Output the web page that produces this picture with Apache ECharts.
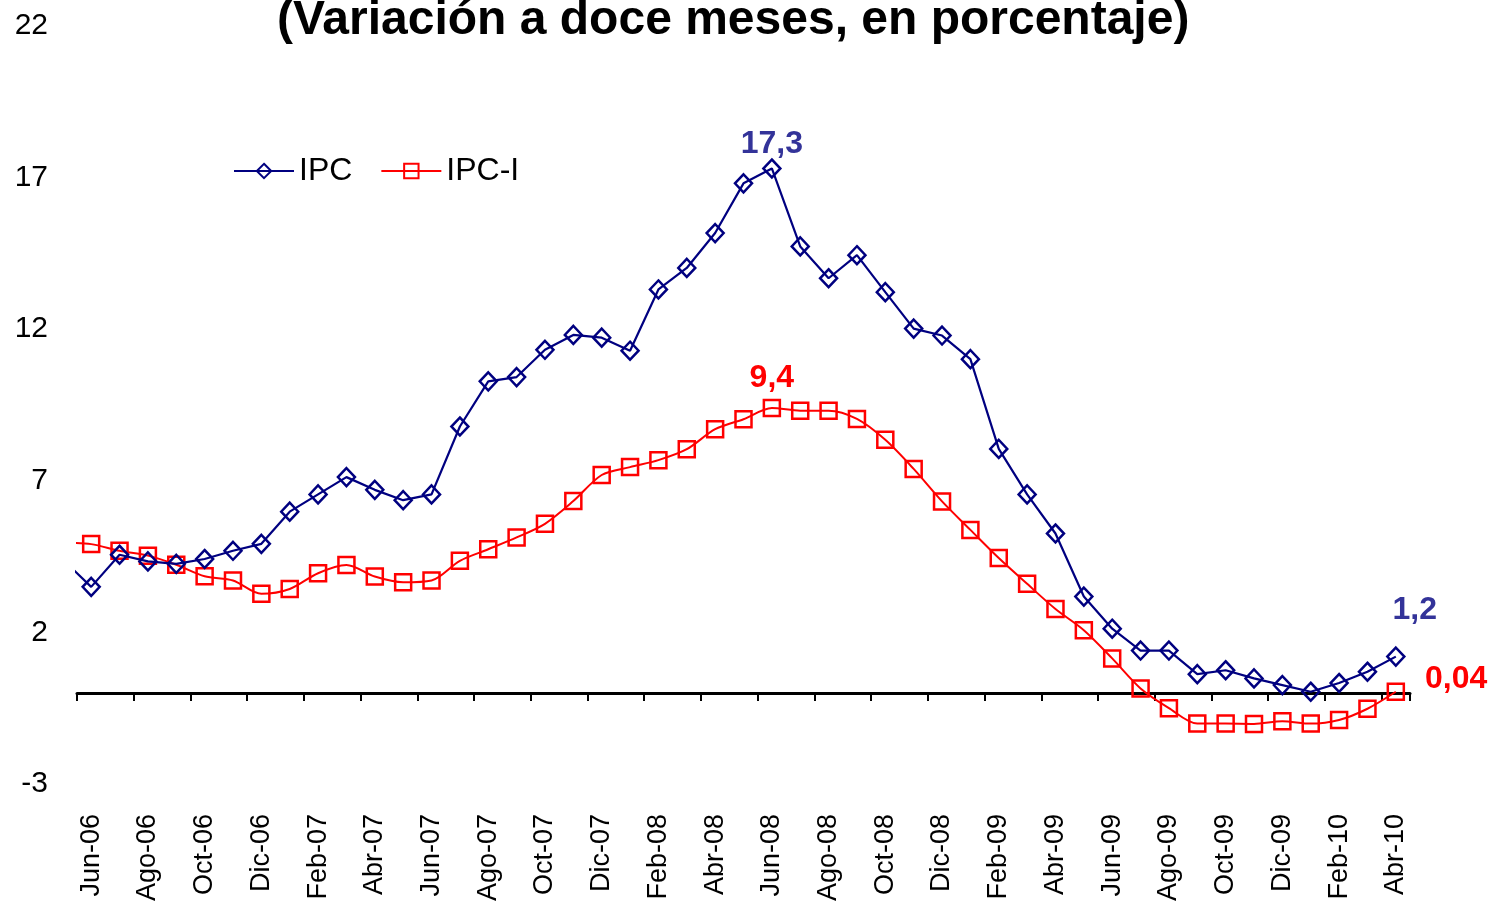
<!DOCTYPE html>
<html>
<head>
<meta charset="utf-8">
<title>Variación a doce meses</title>
<script src="https://cdn.jsdelivr.net/npm/echarts@6/dist/echarts.min.js"></script>
<style>
  html, body { margin: 0; padding: 0; background: #fff; }
  #chart { width: 1494px; height: 904px; }
</style>
</head>
<body>
<div id="chart"></div>
<script>
// Monthly categories; the first month sits just before the visible range
const months = [
  'May-06', 'Jun-06', 'Jul-06', 'Ago-06', 'Sep-06', 'Oct-06', 'Nov-06', 'Dic-06',
  'Ene-07', 'Feb-07', 'Mar-07', 'Abr-07', 'May-07', 'Jun-07', 'Jul-07', 'Ago-07',
  'Sep-07', 'Oct-07', 'Nov-07', 'Dic-07',
  'Ene-08', 'Feb-08', 'Mar-08', 'Abr-08', 'May-08', 'Jun-08', 'Jul-08', 'Ago-08',
  'Sep-08', 'Oct-08', 'Nov-08', 'Dic-08',
  'Ene-09', 'Feb-09', 'Mar-09', 'Abr-09', 'May-09', 'Jun-09', 'Jul-09', 'Ago-09',
  'Sep-09', 'Oct-09', 'Nov-09', 'Dic-09',
  'Ene-10', 'Feb-10', 'Mar-10', 'Abr-10'
];

// Índice de precios al consumidor, variación a doce meses (%)
const ipc = [
  4.40, 3.50, 4.56, 4.34, 4.26, 4.42, 4.69, 4.92,
  5.98, 6.55, 7.12, 6.70, 6.36, 6.55, 8.79, 10.28,
  10.42, 11.32, 11.81, 11.72,
  11.29, 13.31, 14.02, 15.17, 16.81, 17.3, 14.73, 13.68,
  14.44, 13.22, 12.02, 11.79,
  11.01, 8.05, 6.55, 5.26, 3.18, 2.12, 1.40, 1.40,
  0.62, 0.75, 0.48, 0.26,
  0.04, 0.33, 0.70, 1.2
];

// IPC-I, variación a doce meses (%)
const ipcI = [
  4.95, 4.91, 4.69, 4.53, 4.23, 3.85, 3.71, 3.27,
  3.43, 3.95, 4.22, 3.84, 3.65, 3.71, 4.36, 4.74,
  5.13, 5.58, 6.33, 7.19,
  7.45, 7.68, 8.04, 8.70, 9.03, 9.4, 9.31, 9.31,
  9.04, 8.35, 7.39, 6.32,
  5.38, 4.45, 3.60, 2.77, 2.07, 1.14, 0.15, -0.50,
  -1.01, -1.01, -1.02, -0.93,
  -1.01, -0.89, -0.52, 0.04
];

const seriesNames = ['IPC', 'IPC-I'];
const yMin = -3, yMax = 22, yStep = 5;

const BLUE = '#000080';
const LABEL_BLUE = '#333399';
const RED = '#FF0000';
const FONT = '"Liberation Sans", Arial, sans-serif';

const firstShown = 1;                 // 'Jun-06'
const peakIdx = months.indexOf('Jun-08');
const lastIdx = months.length - 1;

function fmt(decimals) {
  return function (p) { return p.value.toFixed(decimals).replace('.', ','); };
}

function valueLabel(color, decimals, extra) {
  return Object.assign({
    show: true,
    color: color,
    fontSize: 32,
    fontWeight: 'bold',
    fontFamily: FONT,
    formatter: fmt(decimals)
  }, extra);
}

function withLabels(values, labels) {
  return values.map(function (v, i) {
    return labels[i] ? { value: v, label: labels[i] } : v;
  });
}

const ipcData = withLabels(ipc, {
  [peakIdx]: valueLabel(LABEL_BLUE, 1, { position: 'top', distance: -2 }),
  [lastIdx]: valueLabel(LABEL_BLUE, 1, { position: 'top', distance: 20, offset: [19, 0] })
});

const ipcIData = withLabels(ipcI, {
  [peakIdx]: valueLabel(RED, 1, { position: 'top', distance: 5 }),
  [lastIdx]: valueLabel(RED, 2, { position: 'right', distance: 20, offset: [0, -13] })
});

// every second month gets a label and a tick, starting at Jun-06
const everyOther = function (idx) { return (idx - firstShown) % 2 === 0; };

const chart = echarts.init(document.getElementById('chart'), null, { renderer: 'canvas' });

chart.setOption({
  animation: false,
  backgroundColor: '#fff',
  textStyle: { fontFamily: FONT },
  title: {
    text: '(Variación a doce meses, en porcentaje)',
    left: 272,
    top: -8,
    textStyle: { fontSize: 48, fontWeight: 'bold', color: '#000', fontFamily: FONT }
  },
  legend: {
    data: seriesNames,
    left: 228,
    top: 150,
    itemWidth: 60,
    itemHeight: 18,
    itemGap: 28,
    textStyle: { fontSize: 32, color: '#000', fontFamily: FONT }
  },
  grid: { left: 77, right: 84, top: 26, bottom: 117, containLabel: false },
  xAxis: [
    {
      // axis line drawn through zero, with ticks only
      type: 'category',
      data: months,
      min: firstShown,
      boundaryGap: true,
      axisLine: { show: true, onZero: true, lineStyle: { color: '#000', width: 3 } },
      axisTick: { show: true, interval: everyOther, length: 8, lineStyle: { color: '#000', width: 2 } },
      axisLabel: { show: false },
      splitLine: { show: false }
    },
    {
      // month labels along the bottom edge
      type: 'category',
      data: months,
      min: firstShown,
      position: 'bottom',
      boundaryGap: true,
      axisLine: { show: false, onZero: false },
      axisTick: { show: false },
      axisLabel: {
        show: true,
        interval: everyOther,
        rotate: 90,
        margin: 30,
        fontSize: 27,
        color: '#000',
        fontFamily: FONT
      },
      splitLine: { show: false }
    }
  ],
  yAxis: {
    type: 'value',
    min: yMin,
    max: yMax,
    interval: yStep,
    axisLine: { show: false },
    axisTick: { show: false },
    splitLine: { show: false },
    axisLabel: { fontSize: 30, color: '#000', margin: 29, fontFamily: FONT }
  },
  series: [
    {
      name: seriesNames[1],
      type: 'line',
      xAxisIndex: 0,
      data: ipcIData,
      smooth: 0.3,
      clip: true,
      symbol: 'rect',
      symbolSize: 16,
      lineStyle: { color: RED, width: 2 },
      itemStyle: { color: 'rgba(255,255,255,0)', borderColor: RED, borderWidth: 2.5 },
      emphasis: { disabled: true },
      z: 2
    },
    {
      name: seriesNames[0],
      type: 'line',
      xAxisIndex: 0,
      data: ipcData,
      clip: true,
      symbol: 'diamond',
      symbolSize: [17, 18],
      lineStyle: { color: BLUE, width: 2.2 },
      itemStyle: { color: 'rgba(255,255,255,0)', borderColor: BLUE, borderWidth: 2.5 },
      emphasis: { disabled: true },
      z: 3
    }
  ]
});
</script>
</body>
</html>
